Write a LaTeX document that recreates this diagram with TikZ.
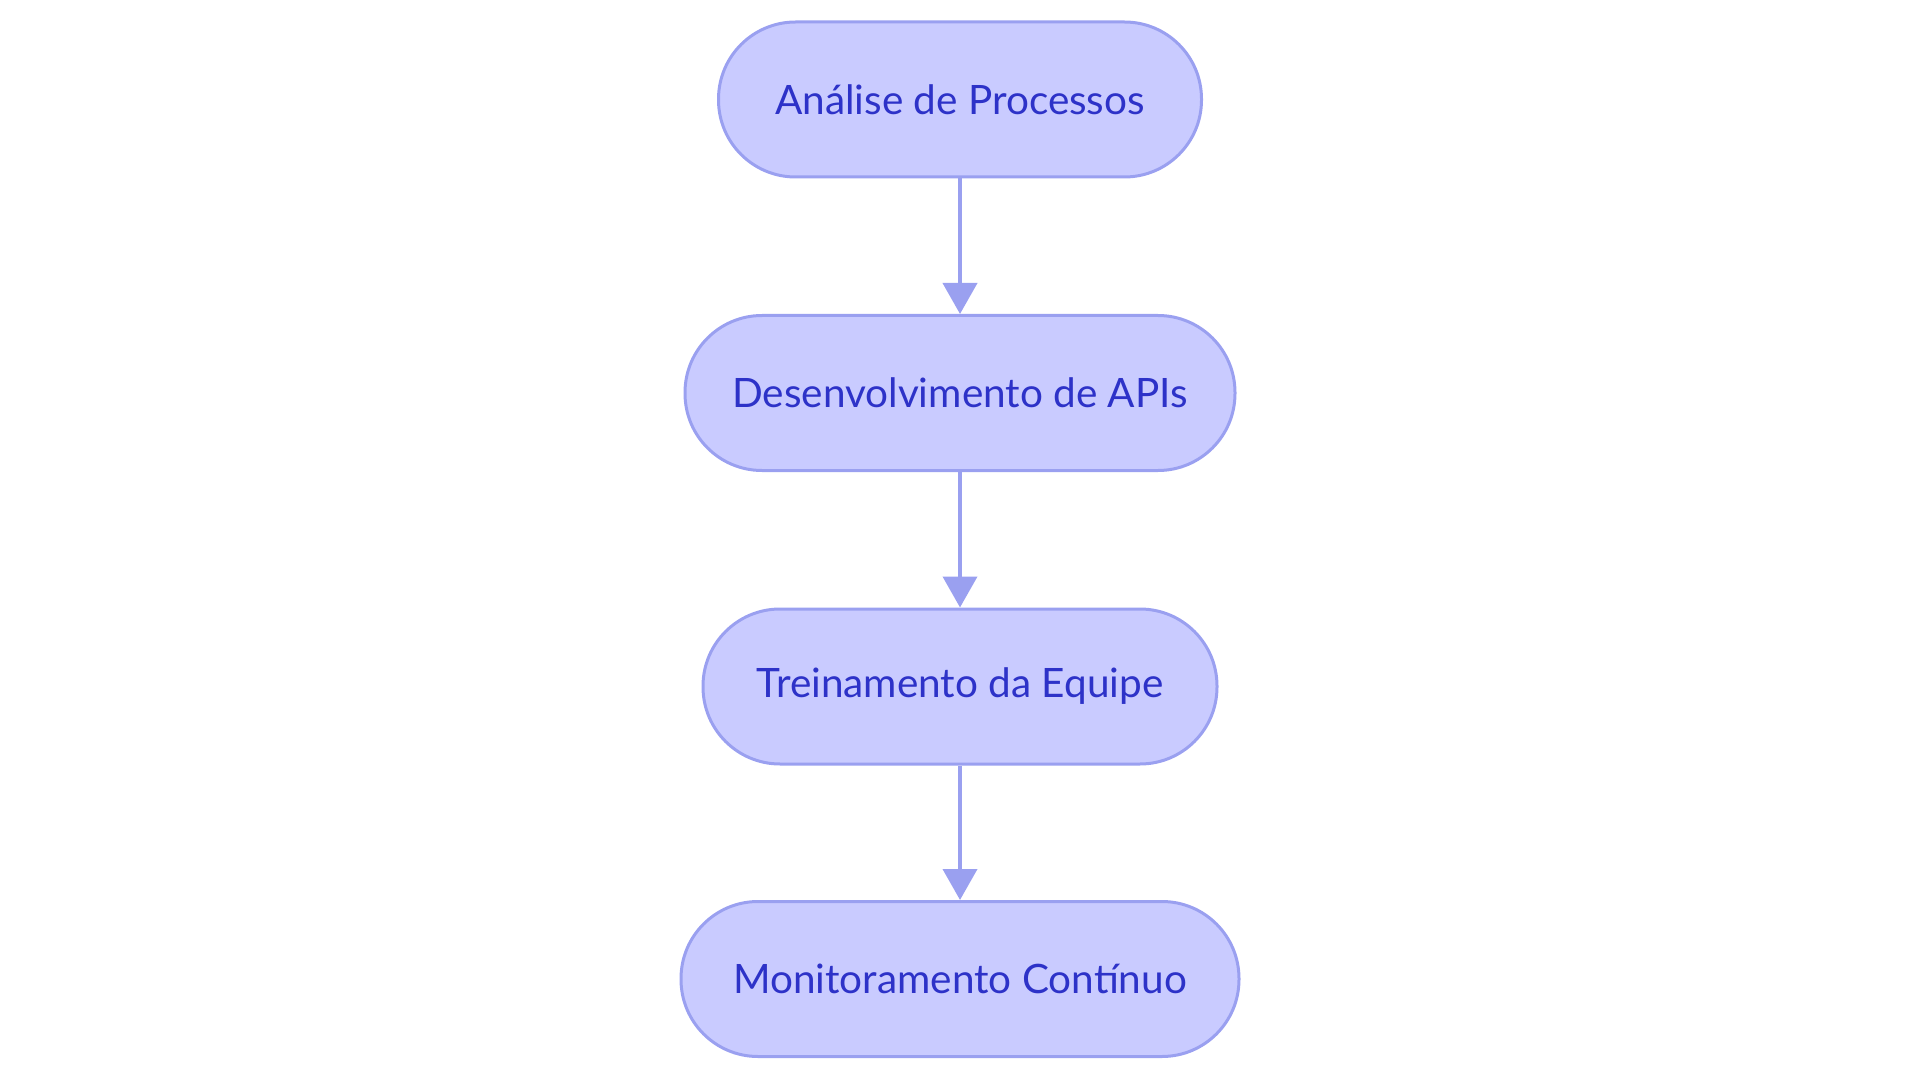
\documentclass[tikz,border=0pt]{standalone}
\usepackage{fontspec}
\setmainfont{Lato}
\usetikzlibrary{arrows.meta}
\definecolor{nodefill}{RGB}{201,203,255}
\definecolor{nodeline}{RGB}{154,160,240}
\definecolor{nodetext}{RGB}{45,50,200}
\tikzset{
  stadium/.style={draw=nodeline, fill=nodefill, line width=3pt,
    rounded corners=77pt, minimum height=155pt, inner sep=0pt,
    text=nodetext, font=\fontsize{40.5}{48}\selectfont},
  flow/.style={draw=nodeline, line width=4pt,
    -{Triangle[length=31pt,width=34pt]}}
}
\begin{document}
\begin{tikzpicture}[x=1pt,y=1pt]
\useasboundingbox (0,0) rectangle (1920,-1083);
\node[stadium, minimum width=483pt] (a) at (960,-99.5) {Análise de Processos};
\node[stadium, minimum width=550pt] (b) at (960,-393) {Desenvolvimento de APIs};
\node[stadium, minimum width=514pt] (c) at (960,-686.5) {Treinamento da Equipe};
\node[stadium, minimum width=558pt] (d) at (960,-979) {Monitoramento Contínuo};
\draw[flow] (a) -- (b);
\draw[flow] (b) -- (c);
\draw[flow] (c) -- (d);
\end{tikzpicture}
\end{document}
